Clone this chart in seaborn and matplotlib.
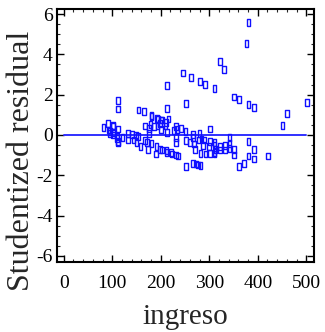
import matplotlib
matplotlib.use("Agg")
import matplotlib.pyplot as plt
import seaborn as sns
import numpy as np
import pandas as pd
from matplotlib.ticker import MultipleLocator

ingreso = [381, 377, 322, 331, 246, 262, 281, 291, 213, 311, 351, 361, 112, 252, 381, 392, 501, 112, 154, 165,
           213, 461, 181, 194, 201, 216, 451,
           82, 91, 92, 101, 96, 102, 112, 111, 112, 121, 133, 140, 133, 149, 153, 144, 150, 158, 168, 175, 175,
           168, 172, 173, 179, 181, 186, 181, 192, 193, 198, 201, 203, 210, 211, 213, 191, 190, 198, 202, 212,
           221, 223, 232, 236, 227, 232, 234, 241, 232, 232, 251, 252, 252, 260, 267, 267, 268, 271, 267, 273,
           277, 282, 280, 279, 284, 287, 282, 292, 289, 301, 301, 300, 301, 311, 311, 311, 313, 322, 322, 332,
           332, 342, 342, 342, 351, 351, 361, 371, 381, 381, 392, 392, 421,
           95, 102, 102, 109, 112, 212, 311]
residual = [5.58, 4.52, 3.66, 3.23, 3.08, 2.87, 2.67, 2.52, 2.44, 2.31, 1.88, 1.75, 1.73, 1.58, 1.52, 1.37, 1.60,
            1.29, 1.24, 1.17, 1.30, 1.07, 0.96, 0.79, 0.74, 0.79, 0.46,
            0.38, 0.58, 0.25, 0.46, 0.08, 0.13, 0.30, -0.08, -0.38, -0.13, 0.08, 0.02, -0.25, 0.0, -0.08, -0.25,
            -0.38, -0.58, 0.45, 0.33, 0.08, -0.28, -0.38, -0.71, 0.54, 0.92, 0.41, -0.41, 0.83, 0.45, 0.58, 0.28,
            0.74, 0.45, 0.61, 0.13, -0.58, -0.94, -0.71, -0.74, -0.78, -0.88, -0.94, -0.99, -1.04, 0.23, 0.41,
            0.28, 0.33, -0.11, -0.38, 0.16, -0.28, -1.57, -0.38, 0.03, -0.11, -0.45, -0.71, -1.40, -1.44, -1.49,
            -1.53, 0.08, -0.25, -0.20, -0.54, -0.91, -0.94, -0.25, 0.30, -0.33, -0.58, -0.91, -0.36, -0.50, -0.87,
            -0.71, -0.74, -0.58, -0.53, -0.74, -0.11, -0.41, -0.66, -0.71, -0.99, -1.57, -1.40, -0.33, -1.04,
            -0.71, -1.19, -1.04,
            0.16, 0.41, 0.0, -0.16, -0.33, -0.87, -0.94]
zero_line_x = [0, 500]
zero_line_y = [0, 0]
x_ticks = [0, 100, 200, 300, 400, 500]
y_ticks = [-6, -4, -2, 0, 2, 4, 6]

df = pd.DataFrame({"ingreso": ingreso, "residual": residual})

sns.set_style("ticks")
plt.rcParams["font.family"] = ["Liberation Serif", "DejaVu Serif"]
plt.rcParams["axes.unicode_minus"] = False

fig = plt.figure(figsize=(3.25, 3.32), dpi=100)
ax = fig.add_axes([57 / 325, 1 - 262 / 332, (314 - 57) / 325, (262 - 9) / 332])

blue = "#1010ff"
rect = [(-0.55, -1), (0.55, -1), (0.55, 1), (-0.55, 1), (-0.55, -1)]
ax.plot(zero_line_x, zero_line_y, color="#3030ff", lw=1.4, zorder=1)
sns.scatterplot(data=df, x="ingreso", y="residual", ax=ax, marker=rect, s=24,
                facecolors="none", edgecolors=blue, linewidth=1.0, zorder=2)

ax.set_xlim(-14, 516)
ax.set_ylim(-6.3, 6.25)
ax.set_xticks(x_ticks)
ax.set_yticks(y_ticks)
ax.xaxis.set_minor_locator(MultipleLocator(20))
ax.yaxis.set_minor_locator(MultipleLocator(0.5))
ax.tick_params(which="major", direction="in", length=5, width=1.0, top=True, right=True,
               labelsize=14, colors="black")
ax.tick_params(axis="x", which="major", pad=9)
ax.tick_params(axis="y", which="major", pad=3)
ax.tick_params(which="minor", direction="in", length=2.5, width=0.8, top=True, right=True)
for sp in ax.spines.values():
    sp.set_linewidth(1.5)
    sp.set_color("black")

ax.set_xlabel("ingreso", fontsize=21)
ax.xaxis.set_label_coords(0.5, -0.165)
ax.xaxis.label.set_va("top")
ax.set_ylabel("Studentized residual", fontsize=23)
ax.yaxis.set_label_coords(-0.082, 0.40)

fig.savefig("out.png", dpi=100)
